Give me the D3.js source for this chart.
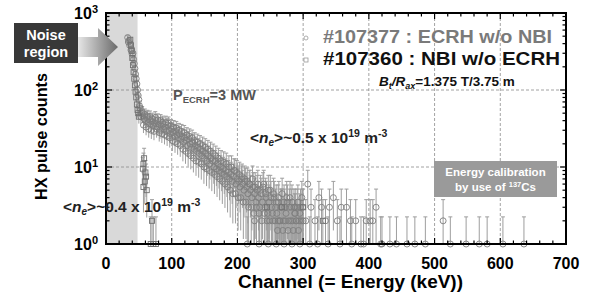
<!DOCTYPE html>
<html>
<head>
<meta charset="utf-8">
<script src="https://cdn.jsdelivr.net/npm/d3@7"></script>
<style>
  body { margin: 0; background: #fff; }
  text { font-family: "Liberation Sans", Arial, sans-serif; font-weight: bold; }
</style>
</head>
<body>
<div id="chart-area"></div>
<script>
// #107377 : ECRH w/o NBI (circles)
var ecrhChannel = [33,34,35,36,37,38,39,40,41,42,43,44,45,46,47,48,49,50,52,54,56,58,60,62,64,66,68,70,72,74,76,78,80,82,84,86,88,90,92,94,96,98,
  100,102,104,106,108,110,112,114,116,118,120,122,124,126,128,130,132,134,136,138,140,142,144,146,148,150,
  152,154,156,158,160,162,164,166,168,170,172,174,176,178,180,182,184,186,188,190,192,194,196,198,200,
  202,204,206,208,210,212,214,216,218,220,222,224,226,228,230,232,234,236,238,240,242,244,246,248,250,
  252,254,256,258,260,262,264,266,268,270,272,274,276,278,280,282,284,286,288,290,292,294,296,298,300];
var ecrhCounts = [480,420,440,380,400,330,340,290,300,250,220,190,160,140,120,100,85,75,58,50,46,42,40,44,38,41,36,39,34,37,40,33,36,30,34,38,31,33,29,35,30,27,
  31,28,25,29,26,24,27,23,25,21,24,22,19,23,20,18,21,17,19,16,18,15,17,14,16,13,
  15,12,14,11,13,12,10,12,9.5,11,9,10,8.5,9.5,8,9,7.5,8.5,7,8,6.5,7.5,9,6,7,
  6.5,5.5,7,6,5,6.5,5.5,4.5,6,5,4,5.5,4.5,3.5,5,4,3,4.5,3.5,6,3,4,2.5,3.5,5,
  3,2,4,3,2.5,3.5,2,3,4.5,2,3,2.5,3.5,2,4,3,2,3,2.5,2,3.5,2,3,4,2];

// same shot, odd channels
var ecrhChannelOdd = [51,53,55,57,59,61,63,65,67,69,71,73,75,77,79,81,83,85,87,89,91,93,95,97,99,
  101,103,105,107,109,111,113,115,117,119,121,123,125,127,129,131,133,135,137,139,141,143,145,147,149,
  151,153,155,157,159,161,163,165,167,169,171,173,175,177,179,181,183,185,187,189,191,193,195,197,199,
  201,203,205,207,209,211,213,215,217,219,221,223,225,227,229,231,233,235,237,239,241,243,245,247,249,
  251,253,255,257,259,261,263,265,267,269,271,273,275,277,279,281,283,285,287,289,291,293,295,297,299];
var ecrhCountsOdd = [62,45,52,35,48,33,46,31,45,30,42,29,44,31,41,28,40,27,36,26,38,25,37,24,34,
  22,33,21,32,20,30,19,29,17,28,16,26,15,25,14,24,13,22,12,21,11.5,20,11,19,10,
  18,9.5,17,9,16,8.5,15,8,14,7.5,13,7,12,6.5,11.5,6,11,5.5,10,5,10,4.5,9,4.5,8.5,
  4,8,4,7.5,3.5,7,3.5,6.5,3,6,3,7,2.5,5.5,3,6,2.5,5,2,5.5,2.5,4.5,2,5,2,
  4,2.5,4.5,2,3.5,1.5,4,2,3,1.5,3.5,2,4,1.5,3,2,3.5,1.5,2.5,2,3,1.5,2.5,2,3];

// same shot, sparse high-energy tail
var ecrhChannelTail = [215,233,247,259,271,283,295,226,262,288,
  304,307,310,312,318,322,324,328,334,338,340,346,352,356,358,366,372,374,380,388,392,396,402,406,411,418,420,
  432,442,458,470,486,513,524,548,568,580,604,636];
var ecrhCountsTail = [1,1,1,1,1,1,1,2,2,3,
  2,6,1,3,2,1,4,3,2,1,3,4,2,1,3,3,2,1,2,1,1,2,2,2,3,1,1,
  1,1,1,1,1,2,1,1,1,1,1,1];

// #107360 : NBI w/o ECRH (squares)
var nbiChannel = [37,38,39,40,41,42,43,44,45,46,47,48,49,50,58,57,56,60,61,59,57,62,70,68,72,76,245,268,300,330];
var nbiCounts  = [450,380,320,260,210,170,140,115,95,80,65,55,50,45,13,11,9.5,8.5,7.5,6.5,5.5,5,2,1,1,1,3,3,3,2];

var xTicks = [0,100,200,300,400,500,600,700];
var yTicks = [1,10,100,1000];
var noiseRegion = [0,48];

var margin = { left:106, right:26, top:13, bottom:51 };
var width = 592 - margin.left - margin.right,
    height = 295 - margin.top - margin.bottom;

var svg = d3.select("#chart-area").append("svg")
    .attr("width", 592).attr("height", 295);

var defs = svg.append("defs");
var grad = defs.append("linearGradient").attr("id", "arrowGrad")
    .attr("x1", "0%").attr("x2", "100%");
grad.append("stop").attr("offset", "0%").attr("stop-color", "#e6e6e6");
grad.append("stop").attr("offset", "100%").attr("stop-color", "#6a6a6a");

var g = svg.append("g").attr("transform", "translate(" + margin.left + "," + margin.top + ")");

var x = d3.scaleLinear().domain([0,700]).range([0, width]);
var y = d3.scaleLog().domain([1,1000]).range([height, 0]);

// noise band
g.append("rect")
  .attr("x", x(noiseRegion[0])).attr("y", 0)
  .attr("width", x(noiseRegion[1]) - x(noiseRegion[0])).attr("height", height)
  .attr("fill", "#d9d9d9");

// grid
g.selectAll(".vgrid").data(xTicks.filter(d => d > 0 && d < 700)).enter()
  .append("line").attr("class", "vgrid")
  .attr("x1", d => x(d)).attr("x2", d => x(d)).attr("y1", 0).attr("y2", height)
  .attr("stroke", "#8c8c8c").attr("stroke-width", 0.8).attr("stroke-dasharray", "3,2");
g.selectAll(".hgrid").data([10,100]).enter()
  .append("line").attr("class", "hgrid")
  .attr("y1", d => y(d)).attr("y2", d => y(d)).attr("x1", 0).attr("x2", width)
  .attr("stroke", "#8c8c8c").attr("stroke-width", 0.8).attr("stroke-dasharray", "3,2");

// data
var toPts = (ch, ct) => ch.map((c, i) => ({ c: c, v: ct[i] }));
var ecrh = toPts(ecrhChannel, ecrhCounts)
  .concat(toPts(ecrhChannelOdd, ecrhCountsOdd))
  .concat(toPts(ecrhChannelTail, ecrhCountsTail));
var nbi = toPts(nbiChannel, nbiCounts);
var errOf = v => 1.25 * Math.sqrt(v);

function errorBars(data, cls) {
  var eb = g.selectAll("." + cls).data(data).enter().append("g").attr("class", cls);
  eb.append("line")
    .attr("x1", d => x(d.c)).attr("x2", d => x(d.c))
    .attr("y1", d => y(Math.max(1, d.v - errOf(d.v))))
    .attr("y2", d => y(Math.min(1000, d.v + errOf(d.v))))
    .attr("stroke", "#9e9e9e").attr("stroke-width", 1);
  eb.append("line")
    .attr("x1", d => x(d.c) - 2).attr("x2", d => x(d.c) + 2)
    .attr("y1", d => y(Math.min(1000, d.v + errOf(d.v))))
    .attr("y2", d => y(Math.min(1000, d.v + errOf(d.v))))
    .attr("stroke", "#9e9e9e").attr("stroke-width", 1);
}
errorBars(ecrh, "ebE");
errorBars(nbi, "ebN");

g.selectAll(".ptE").data(ecrh).enter().append("circle").attr("class", "ptE")
  .attr("cx", d => x(d.c)).attr("cy", d => y(d.v)).attr("r", 3)
  .attr("fill", "none").attr("stroke", "#7e7e7e").attr("stroke-width", 0.9);

g.selectAll(".ptN").data(nbi).enter().append("rect").attr("class", "ptN")
  .attr("x", d => x(d.c) - 2.5).attr("y", d => y(d.v) - 2.5)
  .attr("width", 5).attr("height", 5)
  .attr("fill", "none").attr("stroke", "#707070").attr("stroke-width", 0.9);

// frame
g.append("rect").attr("width", width).attr("height", height)
  .attr("fill", "none").attr("stroke", "#000").attr("stroke-width", 2);

// ticks (inside)
var xMinor = d3.range(0, 701, 20);
[0, height].forEach(function (yy, k) {
  var dir = k === 0 ? 1 : -1;
  g.selectAll(".xt" + k).data(xMinor).enter().append("line")
    .attr("x1", d => x(d)).attr("x2", d => x(d))
    .attr("y1", yy).attr("y2", d => yy + dir * (d % 100 === 0 ? 6 : 3.5))
    .attr("stroke", "#000").attr("stroke-width", 1.2);
});
var yMinor = [];
[1,10,100].forEach(b => { for (var m = 1; m < 10; m++) yMinor.push(b * m); });
yMinor.push(1000);
[0, width].forEach(function (xx, k) {
  var dir = k === 0 ? 1 : -1;
  g.selectAll(".yt" + k).data(yMinor).enter().append("line")
    .attr("y1", d => y(d)).attr("y2", d => y(d))
    .attr("x1", xx).attr("x2", d => xx + dir * (yTicks.indexOf(d) >= 0 ? 6 : 3.5))
    .attr("stroke", "#000").attr("stroke-width", 1.2);
});

// tick labels
g.selectAll(".xl").data(xTicks).enter().append("text")
  .attr("x", d => x(d)).attr("y", height + 25)
  .attr("text-anchor", "middle").attr("font-size", "16px")
  .text(d => d);
var yl = g.selectAll(".yl").data(yTicks).enter().append("text")
  .attr("x", -8).attr("y", d => y(d) + 6)
  .attr("text-anchor", "end").attr("font-size", "16px");
yl.append("tspan").text("10");
yl.append("tspan").attr("dy", -6).attr("font-size", "11px").text(d => Math.round(Math.log10(d)));

// axis titles
svg.append("text").attr("x", 238).attr("y", 288)
  .attr("font-size", "18px").attr("textLength", 225).attr("lengthAdjust", "spacingAndGlyphs")
  .text("Channel (= Energy (keV))");
svg.append("text").attr("transform", "translate(47,200) rotate(-90)")
  .attr("font-size", "16px").attr("textLength", 127).attr("lengthAdjust", "spacingAndGlyphs")
  .text("HX pulse counts");

// legend
var leg = [
  { t: "#107377 : ECRH w/o NBI", col: "#7a7a7a", shape: "c", yy: 43, w: 229 },
  { t: "#107360 : NBI w/o ECRH", col: "#111", shape: "s", yy: 65, w: 237 }
];
leg.forEach(function (l) {
  svg.append("text").attr("x", 323).attr("y", l.yy).attr("font-size", "18px")
    .attr("textLength", l.w).attr("lengthAdjust", "spacingAndGlyphs")
    .attr("fill", l.col).text(l.t);
  if (l.shape === "c") {
    svg.append("circle").attr("cx", 306).attr("cy", l.yy - 5).attr("r", 2)
      .attr("fill", "none").attr("stroke", "#999").attr("stroke-width", 0.8);
  } else {
    svg.append("rect").attr("x", 304).attr("y", l.yy - 7).attr("width", 4).attr("height", 4)
      .attr("fill", "none").attr("stroke", "#999").attr("stroke-width", 0.8);
  }
});
var bt = svg.append("text").attr("x", 379).attr("y", 86).attr("font-size", "13.5px").attr("fill", "#111");
bt.append("tspan").attr("font-style", "italic").text("B");
bt.append("tspan").attr("font-size", "9px").attr("dy", 3).attr("font-style", "italic").text("t");
bt.append("tspan").attr("dy", -3).attr("font-style", "italic").text("/R");
bt.append("tspan").attr("font-size", "9px").attr("dy", 3).attr("font-style", "italic").text("ax");
bt.append("tspan").attr("dy", -3).text("=1.375 T/3.75 m");

// P_ECRH
var pe = svg.append("text").attr("x", 173).attr("y", 100).attr("font-size", "14.5px").attr("fill", "#555");
pe.append("tspan").text("P");
pe.append("tspan").attr("font-size", "9.5px").attr("dy", 3).text("ECRH");
pe.append("tspan").attr("dy", -3).text("=3 MW");

// density labels
function density(xx, yy, val) {
  var t = svg.append("text").attr("x", xx).attr("y", yy).attr("font-size", "15.5px").attr("fill", "#222");
  t.append("tspan").text("<");
  t.append("tspan").attr("font-style", "italic").text("n");
  t.append("tspan").attr("font-size", "10px").attr("dy", 3).attr("font-style", "italic").text("e");
  t.append("tspan").attr("dy", -3).text(">~" + val + " x 10");
  t.append("tspan").attr("font-size", "10.5px").attr("dy", -6).text("19");
  t.append("tspan").attr("dy", 6).text(" m");
  t.append("tspan").attr("font-size", "10.5px").attr("dy", -6).text("-3");
}
density(250, 143, "0.5");
density(63, 212, "0.4");

// energy calibration box
svg.append("rect").attr("x", 434).attr("y", 161).attr("width", 123).attr("height", 36)
  .attr("fill", "#9a9a9a");
svg.append("text").attr("x", 495.5).attr("y", 176).attr("text-anchor", "middle")
  .attr("font-size", "11.5px").attr("fill", "#fff").text("Energy calibration");
var cs = svg.append("text").attr("x", 495.5).attr("y", 191).attr("text-anchor", "middle")
  .attr("font-size", "11.5px").attr("fill", "#fff");
cs.append("tspan").text("by use of ");
cs.append("tspan").attr("font-size", "7.5px").attr("dy", -4).text("137");
cs.append("tspan").attr("dy", 4).text("Cs");

// noise region label + arrow
svg.append("path")
  .attr("d", "M78,37 L98,37 L98,28 L118,47 L98,66 L98,57 L78,57 Z")
  .attr("fill", "url(#arrowGrad)");
svg.append("rect").attr("x", 14).attr("y", 23).attr("width", 64).attr("height", 40)
  .attr("fill", "#383838");
svg.append("text").attr("x", 46).attr("y", 40).attr("text-anchor", "middle")
  .attr("font-size", "14.5px").attr("fill", "#fff").text("Noise");
svg.append("text").attr("x", 46).attr("y", 57).attr("text-anchor", "middle")
  .attr("font-size", "14.5px").attr("fill", "#fff").text("region");
</script>
</body>
</html>
